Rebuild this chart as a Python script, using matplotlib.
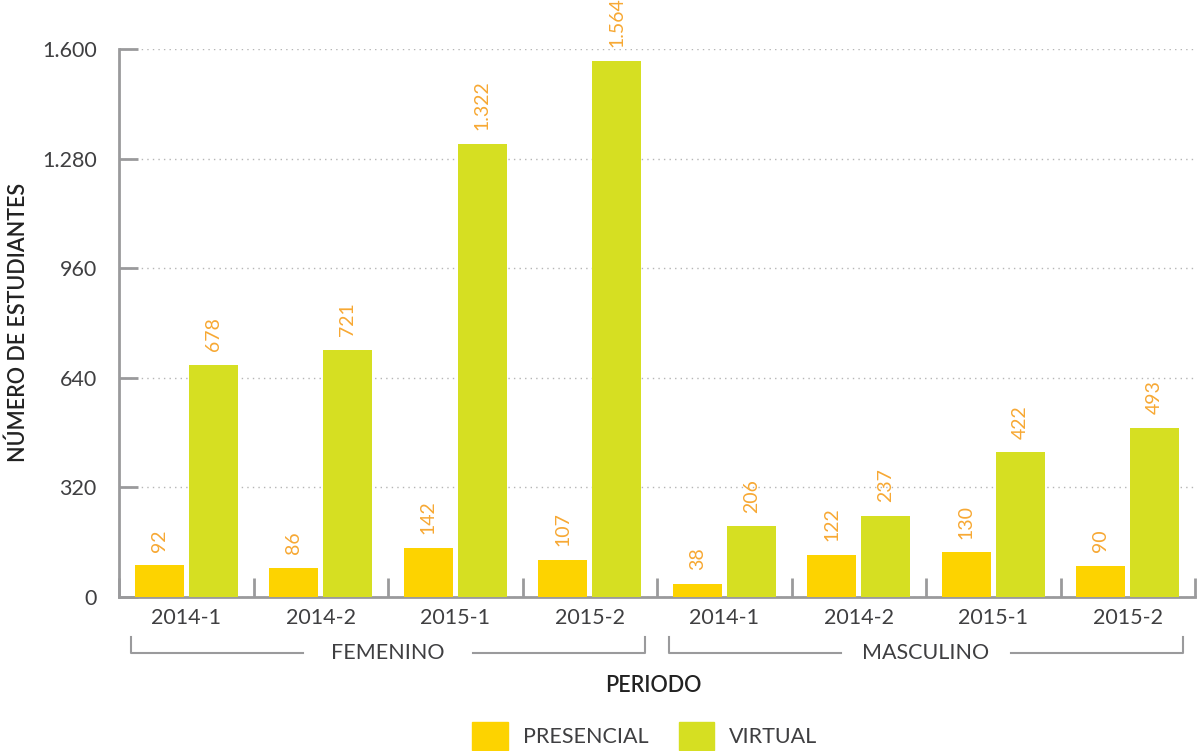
import matplotlib.pyplot as plt
import matplotlib.patches as mpatches
import numpy as np

# Data
periodos = ["2014-1", "2014-2", "2015-1", "2015-2", "2014-1", "2014-2", "2015-1", "2015-2"]
grupos = ["FEMENINO", "MASCULINO"]
presencial = [92, 86, 142, 107, 38, 122, 130, 90]
virtual = [678, 721, 1322, 1564, 206, 237, 422, 493]
yticks = [0, 320, 640, 960, 1280, 1600]

c_pres = "#FDD300"
c_virt = "#D6DF22"
c_lab = "#F7A833"
c_axis = "#9A9A9C"
c_text = "#3F3F41"

plt.rcParams['font.family'] = ['Lato', 'DejaVu Sans']

fig = plt.figure(figsize=(11.99, 7.51), dpi=100)
ax = fig.add_axes([119 / 1199, 1 - 597 / 751, 1076 / 1199, 548 / 751])

x = np.arange(len(periodos))
w = 0.365
b1 = ax.bar(x - 0.2, presencial, w, color=c_pres, zorder=3)
b2 = ax.bar(x + 0.2, virtual, w, color=c_virt, zorder=3)

def fmt(v):
    return f"{v:,}".replace(",", ".")

for bars, vals in ((b1, presencial), (b2, virtual)):
    for r, v in zip(bars, vals):
        ax.annotate(fmt(v), (r.get_x() + r.get_width() / 2, v),
                    xytext=(0, 10), textcoords="offset points",
                    rotation=90, ha="center", va="bottom",
                    color=c_lab, fontsize=14,
                    annotation_clip=False)

ax.set_xlim(-0.5, len(periodos) - 0.5)
ax.set_ylim(0, 1600)

# y axis
ax.set_yticks(yticks)
ax.set_yticklabels([fmt(t) for t in yticks])
ax.tick_params(axis="y", direction="in", length=14, width=2, color=c_axis,
               labelsize=15.5, labelcolor=c_text, pad=16)
ax.grid(axis="y", linestyle=(0, (1, 3)), color="#B5B5B5", linewidth=1, zorder=0)

# x axis: separators as major ticks, labels as minor
ax.set_xticks(np.arange(-0.5, len(periodos), 1.0))
ax.set_xticklabels([])
ax.tick_params(axis="x", which="major", direction="in", length=14, width=2, color=c_axis)
ax.set_xticks(x, minor=True)
ax.set_xticklabels(periodos, minor=True)
ax.tick_params(axis="x", which="minor", length=0, labelsize=15.5, labelcolor=c_text, pad=8)

for s in ("top", "right"):
    ax.spines[s].set_visible(False)
for s in ("left", "bottom"):
    ax.spines[s].set_color(c_axis)
    ax.spines[s].set_linewidth(2)

# group brackets
trans = ax.get_xaxis_transform()
yb = -56 / 548
yt = -40 / 548
for i, g in enumerate(grupos):
    x0 = i * 4 - 0.5 + 0.09
    x1 = i * 4 + 3.5 - 0.09
    xc = i * 4 + 1.5
    gap = 0.63
    ax.plot([x0, x0, xc - gap], [yt, yb, yb], color=c_axis, lw=1.5,
            transform=trans, clip_on=False)
    ax.plot([xc + gap, x1, x1], [yb, yb, yt], color=c_axis, lw=1.5,
            transform=trans, clip_on=False)
    ax.text(xc, yb, g, transform=trans, ha="center", va="center",
            fontsize=15.5, color=c_text)

fig.text(653 / 1199, 1 - 686 / 751, "PERIODO", ha="center", va="center",
         fontsize=15.5, color="#222222", fontweight="semibold")
fig.text(18 / 1199, 1 - 322 / 751, "NÚMERO DE ESTUDIANTES", ha="center", va="center",
         rotation=90, fontsize=15.5, color="#222222", fontweight="semibold")

handles = [mpatches.Patch(color=c_pres, label="PRESENCIAL"),
           mpatches.Patch(color=c_virt, label="VIRTUAL")]
leg = fig.legend(handles=handles, loc="center", bbox_to_anchor=(0.538, 0.02),
                 ncol=2, frameon=False, fontsize=15.5, handlelength=1.65,
                 handleheight=1.65, handletextpad=0.7, columnspacing=1.4)
for t in leg.get_texts():
    t.set_color(c_text)

fig.savefig("out.png", dpi=100)
